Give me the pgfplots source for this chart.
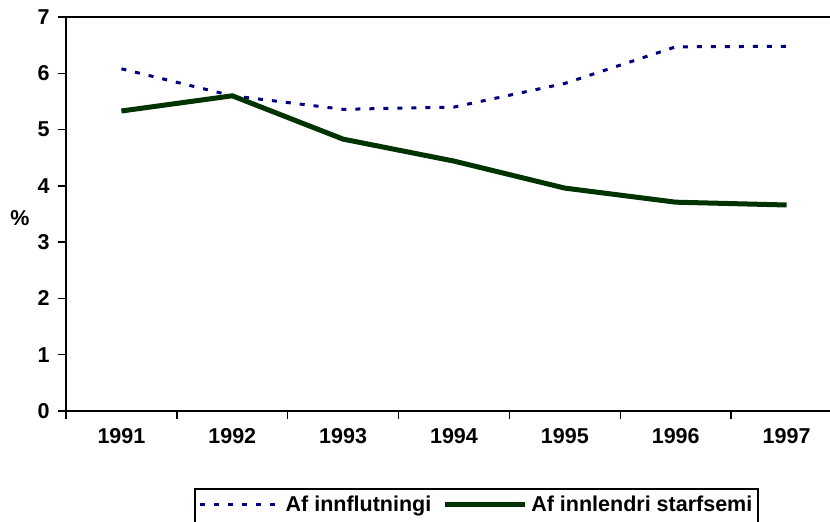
\documentclass[border=0pt]{standalone}
\usepackage{pgfplots}
\pgfplotsset{compat=1.18}
\usepackage{fontspec}
\setmainfont{Liberation Sans}
\definecolor{navyline}{HTML}{000080}
\definecolor{greenline}{HTML}{003300}
\newcommand{\chartfont}{\fontsize{21.5bp}{25bp}\selectfont\bfseries}
\begin{document}
\chartfont
\begin{tikzpicture}
\path[use as bounding box] (-66bp,-111bp) rectangle (764bp,411bp);
\begin{axis}[
  scale only axis,
  width=776bp, height=394bp,
  xmin=0.5, xmax=7.5, ymin=0, ymax=7,
  xtick={0.5,1.5,...,7.5},
  xticklabels={1991,1992,1993,1994,1995,1996,1997},
  x tick label as interval,
  ytick={0,1,...,7},
  tick align=outside,
  major tick length=8bp,
  tick style={black, line width=1.5bp},
  axis x line*=bottom,
  axis y line*=left,
  axis line style={black, line width=2bp, -},
  /pgf/number format/assume math mode=true,
  ticklabel style={font=\chartfont},
  xticklabel style={yshift=-2bp},
  yticklabel style={xshift=-1bp},
  legend columns=2,
  legend style={at={(0.529,-0.1954)}, anchor=north, draw=black, line width=2bp,
    font=\chartfont, inner xsep=4bp, inner ysep=5bp,
    nodes={text depth=12bp},
    /tikz/every even column/.append style={column sep=9bp},
    /tikz/every odd column/.append style={column sep=2bp}},
  legend image code/.code={\draw[#1] (0bp,5bp) -- (80bp,5bp);},
  clip=false,
]
\addplot[navyline, line width=3bp, dash pattern=on 5bp off 9bp] coordinates {
  (1,6.08) (2,5.60) (3,5.36) (4,5.40) (5,5.82) (6,6.47) (7,6.48)};
\addlegendentry{Af innflutningi}
\addplot[greenline, line width=5bp] coordinates {
  (1,5.33) (2,5.60) (3,4.83) (4,4.44) (5,3.96) (6,3.71) (7,3.66)};
\addlegendentry{Af innlendri starfsemi}
\draw[black, line width=2bp] (rel axis cs:0,1) -- (rel axis cs:1,1);
\node[anchor=center] at (axis description cs:0,0.49) [xshift=-46bp] {\%};
\end{axis}
\end{tikzpicture}
\end{document}
